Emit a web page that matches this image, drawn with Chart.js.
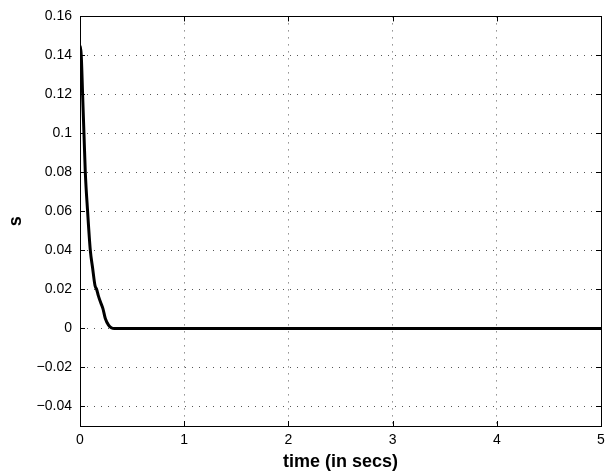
<!DOCTYPE html>
<html>
<head>
<meta charset="utf-8">
<script src="https://cdn.jsdelivr.net/npm/chart.js@4/dist/chart.umd.min.js"></script>
<style>
html,body{margin:0;padding:0;background:#fff;}
#wrap{width:611px;height:475px;position:relative;}
</style>
</head>
<body>
<div id="wrap"><canvas id="c" width="611" height="475"></canvas></div>
<script>
// Data
const timeSecs = [0, 0.012, 0.025, 0.038, 0.051, 0.073, 0.099, 0.121, 0.144, 0.16, 0.175, 0.2, 0.22, 0.243, 0.274, 0.3, 0.33, 5];
const sValues  = [0.145, 0.14, 0.12, 0.10, 0.08, 0.06, 0.04, 0.031, 0.022, 0.02, 0.017, 0.013, 0.0102, 0.0051, 0.0017, 0.0004, 0, 0];
const xTicks = [0, 1, 2, 3, 4, 5];
const yTicks = [-0.04, -0.02, 0, 0.02, 0.04, 0.06, 0.08, 0.1, 0.12, 0.14, 0.16];
const xLabel = 'time (in secs)';
const yLabel = 's';

const points = timeSecs.map((t, i) => ({x: t, y: sValues[i]}));

function fmt(v) {
  const s = String(Number(v.toFixed(2)));
  return v < 0 ? '\u2212' + s.slice(1) : s;
}

const boxPlugin = {
  id: 'box',
  afterDraw(chart) {
    const {ctx, chartArea: a, scales} = chart;
    ctx.save();
    ctx.strokeStyle = '#000';
    ctx.lineWidth = 1;
    ctx.setLineDash([]);
    ctx.beginPath();
    const L = 5;
    scales.x.ticks.forEach(t => {
      const px = Math.round(scales.x.getPixelForValue(t.value)) + 0.5;
      ctx.moveTo(px, a.bottom); ctx.lineTo(px, a.bottom - L);
      ctx.moveTo(px, a.top); ctx.lineTo(px, a.top + L);
    });
    scales.y.ticks.forEach(t => {
      const py = Math.round(scales.y.getPixelForValue(t.value)) + 0.5;
      ctx.moveTo(a.left, py); ctx.lineTo(a.left + L, py);
      ctx.moveTo(a.right, py); ctx.lineTo(a.right - L, py);
    });
    ctx.stroke();
    ctx.strokeRect(Math.round(a.left) + 0.5, Math.round(a.top) + 0.5,
                   Math.round(a.right - a.left), Math.round(a.bottom - a.top));
    ctx.restore();
  }
};

new Chart(document.getElementById('c'), {
  type: 'line',
  data: {
    datasets: [{
      data: points,
      borderColor: '#000',
      borderWidth: 3,
      pointRadius: 0,
      fill: false,
      cubicInterpolationMode: 'monotone'
    }]
  },
  options: {
    responsive: false,
    animation: false,
    devicePixelRatio: 1,
    layout: {padding: {left: 0, right: 10, top: 15, bottom: 0}},
    plugins: {legend: {display: false}, tooltip: {enabled: false}},
    scales: {
      x: {
        type: 'linear',
        min: 0, max: 5,
        afterBuildTicks: s => { s.ticks = xTicks.map(v => ({value: v})); },
        afterFit: s => { s.height = 49; },
        border: {display: false, dash: [1, 6]},
        grid: {color: '#555', lineWidth: 1, drawTicks: false},
        ticks: {color: '#000', font: {family: 'Liberation Sans', size: 14}, padding: 6, maxRotation: 0,
                callback: v => fmt(v)},
        title: {display: true, text: xLabel, color: '#000',
                font: {family: 'Liberation Sans', size: 18, weight: 'bold'}, padding: {top: 0, bottom: 2}}
      },
      y: {
        type: 'linear',
        min: -0.05, max: 0.16,
        afterBuildTicks: s => { s.ticks = yTicks.map(v => ({value: v})); },
        afterFit: s => { s.width = 80; },
        border: {display: false, dash: [1, 6]},
        grid: {color: '#555', lineWidth: 1, drawTicks: false},
        ticks: {color: '#000', font: {family: 'Liberation Sans', size: 14}, padding: 8,
                callback: v => fmt(v)},
        title: {display: true, text: yLabel, color: '#000',
                font: {family: 'Liberation Sans', size: 18, weight: 'bold'}, padding: {top: 5, bottom: 0}}
      }
    }
  },
  plugins: [boxPlugin]
});
</script>
</body>
</html>
